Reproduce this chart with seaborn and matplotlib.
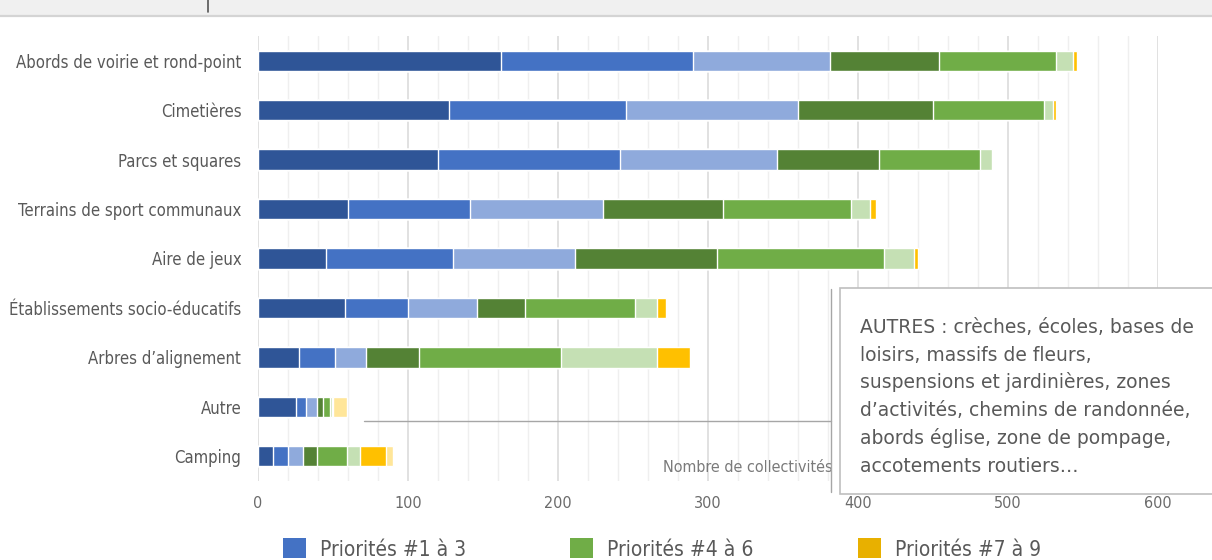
import matplotlib
matplotlib.use("Agg")
import numpy as np
import pandas as pd
import matplotlib.pyplot as plt
from matplotlib.patches import Rectangle, Patch
from matplotlib.lines import Line2D
from matplotlib.ticker import MultipleLocator
import seaborn as sns

# ---- data -------------------------------------------------------------
categories = [
    "Abords de voirie et rond-point",
    "Cimetières",
    "Parcs et squares",
    "Terrains de sport communaux",
    "Aire de jeux",
    "Établissements socio-éducatifs",
    "Arbres d’alignement",
    "Autre",
    "Camping",
]

prio_1 = [162, 127, 120, 60, 45, 58, 27, 25, 10]
prio_2 = [128, 118, 121, 81, 85, 42, 24, 7, 10]
prio_3 = [91, 115, 105, 89, 81, 46, 21, 7, 10]
prio_4 = [73, 90, 68, 80, 95, 32, 35, 4, 9]
prio_5 = [78, 74, 67, 85, 111, 73, 95, 5, 20]
prio_6 = [11, 6, 8, 13, 20, 15, 64, 1, 9]
prio_7 = [3, 2, 0, 4, 3, 6, 22, 1, 17]
prio_8 = [0, 0, 0, 0, 0, 0, 0, 9, 5]

series = [prio_1, prio_2, prio_3, prio_4, prio_5, prio_6, prio_7, prio_8]
series_colors = ["#2F5597", "#4472C4", "#8FAADC",
                 "#548235", "#70AD47", "#C5E0B4",
                 "#FFC000", "#FFE699"]

legend_labels = ["Priorités #1 à 3", "Priorités #4 à 6", "Priorités #7 à 9"]
legend_colors = ["#4472C4", "#70AD47", "#E8B000"]

x_label = "Nombre de collectivités"
note_lines = [
    "AUTRES : crèches, écoles, bases de",
    "loisirs, massifs de fleurs,",
    "suspensions et jardinières, zones",
    "d’activités, chemins de randonnée,",
    "abords église, zone de pompage,",
    "accotements routiers…",
]

# ---- style ------------------------------------------------------------
sns.set_style("white")
plt.rcParams["font.family"] = ["DejaVu Sans"]
plt.rcParams["font.stretch"] = "condensed"

W, H = 1212, 560
fig = plt.figure(figsize=(W / 100, H / 100), dpi=100)


def fx(px):
    return px / W


def fy(py):
    return 1 - py / H


ax = fig.add_axes([fx(258), fy(481), fx(1158) - fx(258), fy(36) - fy(481)])

# stacked bars: draw running totals from the outermost inwards
df = pd.DataFrame({"categorie": categories})
cum = np.cumsum(np.array(series), axis=0)
for i in range(len(series) - 1, -1, -1):
    df["total"] = cum[i]
    sns.barplot(data=df, x="total", y="categorie", orient="h",
                color=series_colors[i], saturation=1, width=0.41,
                ax=ax, zorder=3)

ax.set_xlim(0, 600)
ax.set_ylim(len(categories) - 0.5, -0.5)
ax.xaxis.set_major_locator(MultipleLocator(100))
ax.xaxis.set_minor_locator(MultipleLocator(20))
ax.grid(which="major", axis="x", color="#d9d9d9", lw=1.1, zorder=0)
ax.grid(which="minor", axis="x", color="#efefef", lw=1.0, zorder=0)
ax.grid(axis="y", visible=False)
ax.set_axisbelow(True)
for s in ax.spines.values():
    s.set_visible(False)
ax.set_xlabel("")
ax.set_ylabel("")
ax.tick_params(axis="both", which="both", length=0)
ax.tick_params(axis="y", pad=12, labelsize=12, labelcolor="#595959")
ax.tick_params(axis="x", pad=11, labelsize=11.5, labelcolor="#6b6b6b")

# header strip
fig.add_artist(Rectangle((0, fy(15)), 1, fy(0) - fy(15), transform=fig.transFigure,
                         facecolor="#f0f0f0", edgecolor="none", zorder=1))
fig.add_artist(Line2D([0, 1], [fy(16), fy(16)], transform=fig.transFigure,
                      color="#d4d4d4", lw=1.6, zorder=2))
fig.add_artist(Line2D([fx(208), fx(208)], [fy(0), fy(12)], transform=fig.transFigure,
                      color="#555555", lw=1.2, zorder=2))

# axis title
fig.text(fx(833), fy(467), x_label, ha="right", va="center",
         fontsize=11.5, color="#7a7a7a")

# callout for "Autre"
fig.add_artist(Line2D([fx(364), fx(831)], [fy(421), fy(421)], transform=fig.transFigure,
                      color="#a6a6a6", lw=1.0, zorder=4))
fig.add_artist(Line2D([fx(831), fx(831)], [fy(289), fy(492)], transform=fig.transFigure,
                      color="#a6a6a6", lw=1.0, zorder=4))
fig.add_artist(Rectangle((fx(840), fy(494)), fx(1240) - fx(840), fy(288) - fy(494),
                         transform=fig.transFigure, facecolor="white",
                         edgecolor="#bfbfbf", lw=1.2, zorder=5))
for k, line in enumerate(note_lines):
    fig.text(fx(860), fy(333 + 27.7 * k), line, ha="left", va="baseline",
             fontsize=13.5, color="#595959", fontstretch="normal", zorder=6)

# legend
handles = [Patch(facecolor=c, edgecolor="none") for c in legend_colors]
fig.legend(handles, legend_labels, ncol=3, loc="center left",
           bbox_to_anchor=(fx(283), fy(549)), frameon=False,
           fontsize=15, labelcolor="#595959",
           handlelength=1.1, handleheight=1.1, handletextpad=0.68,
           columnspacing=5.0, borderpad=0, borderaxespad=0)

fig.savefig("out.png", dpi=100, facecolor="white")
